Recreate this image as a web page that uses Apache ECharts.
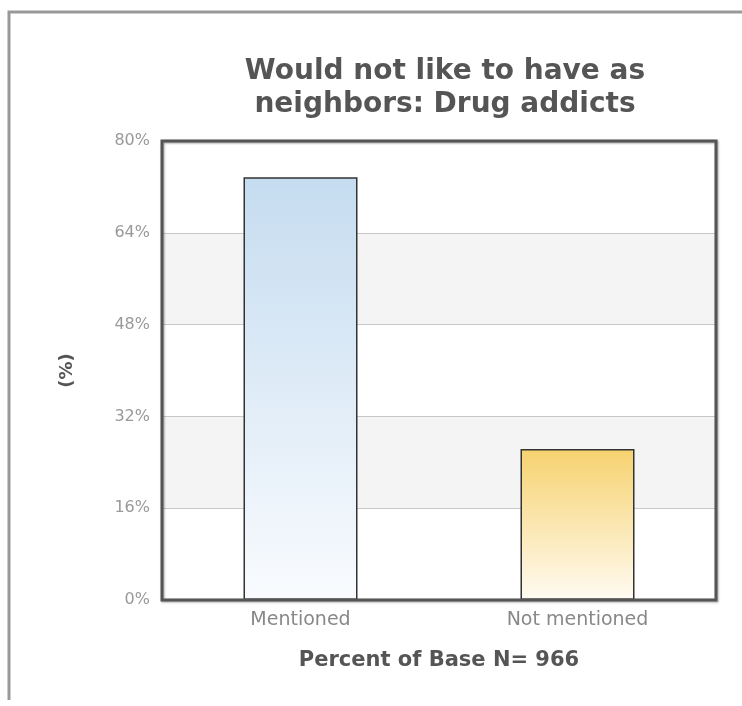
<!DOCTYPE html>
<html><head><meta charset="utf-8">
<script src="https://cdn.jsdelivr.net/npm/echarts@6/dist/echarts.min.js"></script>
<style>html,body{margin:0;padding:0;background:#fff;}#c{width:742px;height:706px;}</style>
</head><body><div id="c"></div>
<script>
const categories = ['Mentioned', 'Not mentioned'];
const values = [73.7, 26.3];
const yTicks = [0, 16, 32, 48, 64, 80];
const titleText = 'Would not like to have as\nneighbors: Drug addicts';
const xName = 'Percent of Base N= 966';
const yName = '(%)';

const chart = echarts.init(document.getElementById('c'));
const grads = [
  new echarts.graphic.LinearGradient(0,0,0,1,[{offset:0,color:'#c5dcf0'},{offset:1,color:'#f9fbfe'}]),
  new echarts.graphic.LinearGradient(0,0,0,1,[{offset:0,color:'#f6d26f'},{offset:1,color:'#fffbf2'}])
];
const G = {left:162, right:26, top:141, bottom:106};
chart.setOption({
  animation:false,
  title:{text:titleText,left:440,textAlign:'center',top:50,
    textStyle:{fontFamily:'DejaVu Sans',fontSize:28,fontWeight:'bold',color:'#555',lineHeight:33}},
  graphic:[
    {type:'polyline',shape:{points:[[9,700],[9,12],[742,12]]},style:{stroke:'#999',lineWidth:3,fill:null},z:0},
    {type:'rect',shape:{x:G.left,y:G.top,width:742-G.left-G.right,height:706-G.top-G.bottom},
      style:{stroke:'#555',lineWidth:3,fill:null,shadowColor:'rgba(0,0,0,0.35)',shadowBlur:2,shadowOffsetX:1,shadowOffsetY:1},z:10}
  ],
  grid:G,
  xAxis:{type:'category',data:categories,
    axisLine:{show:false},axisTick:{show:false},
    axisLabel:{color:'#888',fontFamily:'DejaVu Sans',fontSize:19,margin:11},
    name:xName,nameLocation:'middle',nameGap:50,
    nameTextStyle:{fontFamily:'DejaVu Sans',fontSize:21,fontWeight:'bold',color:'#555'}},
  yAxis:{type:'value',min:0,max:80,interval:16,
    axisLine:{show:false},axisTick:{show:false},
    axisLabel:{color:'#999',fontFamily:'DejaVu Sans',fontSize:16,margin:12,
      formatter:v=>yTicks.includes(v)?v+'%':''},
    splitLine:{show:true,lineStyle:{color:'#c8c8c8',width:1}},
    splitArea:{show:true,areaStyle:{color:['#ffffff','#f4f4f4']}},
    name:yName,nameLocation:'middle',nameGap:86,nameRotate:90,
    nameTextStyle:{fontFamily:'DejaVu Sans',fontSize:18,fontWeight:'bold',color:'#555'}},
  series:[{type:'bar',barWidth:114,
    data:values.map((v,i)=>({value:v,itemStyle:{color:grads[i],borderColor:'#333',borderWidth:1.5}}))}]
});
</script></body></html>
